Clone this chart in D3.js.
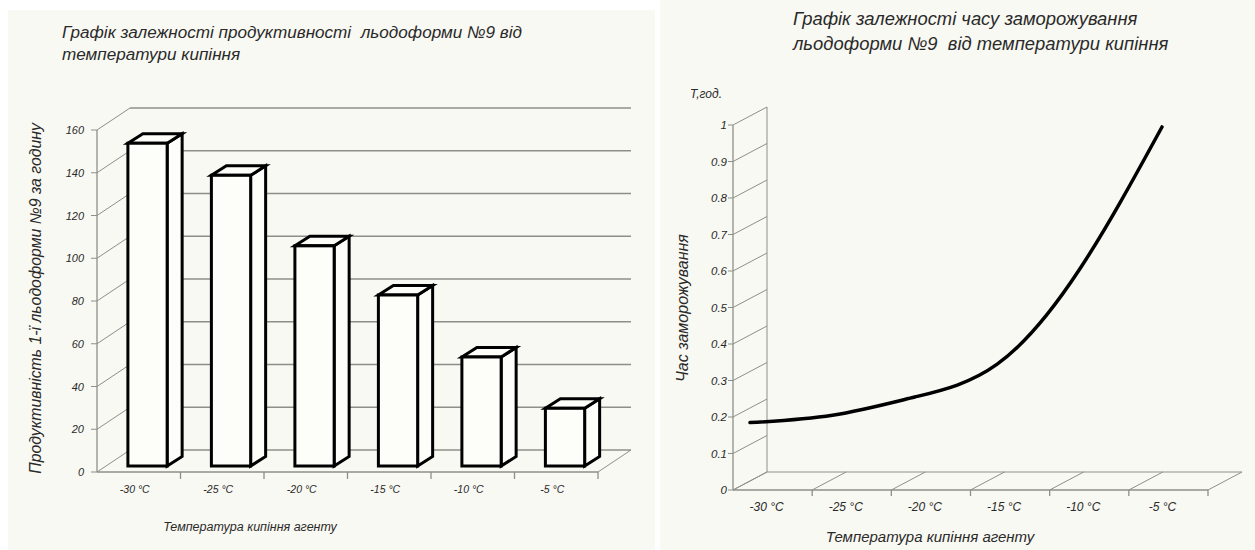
<!DOCTYPE html>
<html>
<head>
<meta charset="utf-8">
<script src="https://cdn.jsdelivr.net/npm/d3@7"></script>
<style>
  html, body { margin: 0; padding: 0; background: #ffffff; }
  svg { display: block; }
  text { font-family: "Liberation Sans", Arial, sans-serif; font-style: italic; fill: #2a2a2a; white-space: pre; }
</style>
</head>
<body>
<svg id="chart" width="1255" height="550"></svg>
<script>
// ---- data ----
const temperatures = ["-30 °C", "-25 °C", "-20 °C", "-15 °C", "-10 °C", "-5 °C"];
const productivity = [151, 136, 103, 80, 51, 27];          // per hour
const productivityTicks = [0, 20, 40, 60, 80, 100, 120, 140, 160];
const boilingTemp = [-30, -25, -20, -15, -10, -5];
const freezeTime = [0.16, 0.18, 0.23, 0.32, 0.58, 0.97];   // hours
const timeTicks = [0, 0.1, 0.2, 0.3, 0.4, 0.5, 0.6, 0.7, 0.8, 0.9, 1];

const leftTitle = ["Графік залежності продуктивності  льодоформи №9 від", "температури кипіння"];
const rightTitle = ["Графік залежності часу заморожування", "льодоформи №9  від температури кипіння"];
const leftYTitle = "Продуктивність 1-ї льодоформи №9 за годину";
const rightYTitle = "Час заморожування";
const rightYUnit = "T,год.";
const xTitle = "Температура кипіння агенту";

const svg = d3.select("#chart");
const GRID = "#8f8f8a";
const PANEL = "#f9f9f3";

// panel backgrounds
svg.append("rect").attr("x", 8).attr("y", 10).attr("width", 647).attr("height", 540).attr("fill", PANEL);
svg.append("rect").attr("x", 660).attr("y", 0).attr("width", 595).attr("height", 550).attr("fill", PANEL);

// ================= left: 3D bar chart =================
(function () {
  const x0 = 97, x1 = 598, yBase = 472, yTopPx = 130;
  const wall = { dx: 33, dy: 22 };
  const g = svg.append("g");

  const x = d3.scaleBand().domain(temperatures).range([x0, x1]);
  const y = d3.scaleLinear().domain([0, 160]).range([yBase, yTopPx]);

  // back wall gridlines
  g.selectAll("line.grid").data(productivityTicks).join("line")
    .attr("x1", x0 + wall.dx).attr("x2", x1 + wall.dx)
    .attr("y1", d => y(d) - wall.dy).attr("y2", d => y(d) - wall.dy)
    .attr("stroke", GRID).attr("stroke-width", 1.3);

  // side-wall diagonals from axis ticks
  g.selectAll("line.diag").data(productivityTicks).join("line")
    .attr("x1", x0).attr("y1", d => y(d))
    .attr("x2", x0 + wall.dx).attr("y2", d => y(d) - wall.dy)
    .attr("stroke", GRID).attr("stroke-width", 1);

  // floor
  g.append("line").attr("x1", x0).attr("x2", x1).attr("y1", yBase).attr("y2", yBase)
    .attr("stroke", GRID).attr("stroke-width", 1.3);
  g.append("line").attr("x1", x1).attr("y1", yBase).attr("x2", x1 + wall.dx).attr("y2", yBase - wall.dy)
    .attr("stroke", GRID).attr("stroke-width", 1);

  // y axis
  g.append("line").attr("x1", x0).attr("x2", x0).attr("y1", yBase).attr("y2", yTopPx)
    .attr("stroke", GRID).attr("stroke-width", 1.3);
  g.selectAll("line.ytick").data(productivityTicks).join("line")
    .attr("x1", x0 - 6).attr("x2", x0).attr("y1", d => y(d)).attr("y2", d => y(d))
    .attr("stroke", GRID);
  g.selectAll("text.ylab").data(productivityTicks).join("text")
    .attr("x", x0 - 13).attr("y", d => y(d) + 4)
    .attr("text-anchor", "end").attr("font-size", 11).text(d => d);

  // x ticks
  g.selectAll("line.xtick").data(temperatures).join("line")
    .attr("x1", d => x(d) + x.bandwidth()).attr("x2", d => x(d) + x.bandwidth())
    .attr("y1", yBase).attr("y2", yBase + 7).attr("stroke", GRID).attr("stroke-width", 1.3);
  g.selectAll("text.xlab").data(temperatures).join("text")
    .attr("x", d => x(d) + x.bandwidth() / 2 - 4).attr("y", yBase + 21)
    .attr("text-anchor", "middle").attr("font-size", 10.5).text(d => d);

  // bars (front face + right side + top)
  const lift = 6;                     // bars sit slightly behind the front plane
  const depth = { dx: 15, dy: 9.5 };
  const bw = x.bandwidth() * 0.47;
  const bars = g.selectAll("g.bar").data(temperatures.map((t, i) => ({ t, v: productivity[i] }))).join("g");
  bars.each(function (d) {
    const L = x(d.t) + x.bandwidth() * 0.37;
    const R = L + bw;
    const T = y(d.v) - lift;
    const B = y(0) - lift;
    const sel = d3.select(this);
    const style = s => s.attr("fill", "#fdfdf9").attr("stroke", "#000").attr("stroke-width", 3).attr("stroke-linejoin", "miter");
    style(sel.append("path").attr("d", `M${R},${T}L${R + depth.dx},${T - depth.dy}L${R + depth.dx},${B - depth.dy}L${R},${B}Z`));
    style(sel.append("path").attr("d", `M${L},${T}L${L + depth.dx},${T - depth.dy}L${R + depth.dx},${T - depth.dy}L${R},${T}Z`));
    style(sel.append("rect").attr("x", L).attr("y", T).attr("width", bw).attr("height", B - T));
  });

  // titles
  svg.append("text").attr("x", 62).attr("y", 38).attr("font-size", 17.1).text(leftTitle[0]);
  svg.append("text").attr("x", 62).attr("y", 60).attr("font-size", 17.1).text(leftTitle[1]);
  svg.append("text").attr("transform", `translate(41,${(yBase + 125) / 2}) rotate(-90)`)
    .attr("text-anchor", "middle").attr("font-size", 15.8).text(leftYTitle);
  svg.append("text").attr("x", 250).attr("y", 531).attr("text-anchor", "middle")
    .attr("font-size", 12.5).text(xTitle);
})();

// ================= right: 3D line chart =================
(function () {
  const x0 = 733, x1 = 1208, yBase = 490, yTopPx = 125;
  const wall = { dx: 34, dy: 18 };
  const g = svg.append("g");

  const xb = d3.scaleBand().domain(temperatures).range([x0, x1]);
  const y = d3.scaleLinear().domain([0, 1]).range([yBase, yTopPx]);

  // side-wall diagonals
  g.selectAll("line.diag").data(timeTicks).join("line")
    .attr("x1", x0).attr("y1", d => y(d))
    .attr("x2", x0 + wall.dx).attr("y2", d => y(d) - wall.dy)
    .attr("stroke", GRID).attr("stroke-width", 1);
  // back vertical edge
  g.append("line").attr("x1", x0 + wall.dx).attr("x2", x0 + wall.dx)
    .attr("y1", yBase - wall.dy).attr("y2", yTopPx - wall.dy).attr("stroke", GRID);

  // floor
  const bounds = [x0].concat(temperatures.map(t => xb(t) + xb.bandwidth()));
  g.append("line").attr("x1", x0).attr("x2", x1).attr("y1", yBase).attr("y2", yBase)
    .attr("stroke", GRID).attr("stroke-width", 1.3);
  g.append("line").attr("x1", x0 + wall.dx).attr("x2", x1 + wall.dx)
    .attr("y1", yBase - wall.dy).attr("y2", yBase - wall.dy).attr("stroke", GRID);
  g.selectAll("line.fdiag").data(bounds).join("line")
    .attr("x1", d => d).attr("y1", yBase).attr("x2", d => d + wall.dx).attr("y2", yBase - wall.dy)
    .attr("stroke", GRID);
  g.selectAll("line.xtick").data(bounds.slice(1)).join("line")
    .attr("x1", d => d).attr("x2", d => d).attr("y1", yBase).attr("y2", yBase + 6)
    .attr("stroke", GRID).attr("stroke-width", 1.3);
  g.selectAll("text.xlab").data(temperatures).join("text")
    .attr("x", d => xb(d) + xb.bandwidth() / 2 - 6).attr("y", yBase + 21)
    .attr("text-anchor", "middle").attr("font-size", 12).text(d => d);

  // y axis
  g.append("line").attr("x1", x0).attr("x2", x0).attr("y1", yBase).attr("y2", yTopPx)
    .attr("stroke", GRID).attr("stroke-width", 1.3);
  g.selectAll("line.ytick").data(timeTicks).join("line")
    .attr("x1", x0 - 5).attr("x2", x0).attr("y1", d => y(d)).attr("y2", d => y(d))
    .attr("stroke", GRID);
  g.selectAll("text.ylab").data(timeTicks).join("text")
    .attr("x", x0 - 6).attr("y", d => y(d) + 4)
    .attr("text-anchor", "end").attr("font-size", 11.5).text(d => d);

  // freezing-time curve, drawn at mid-depth of the box
  const mid = { dx: wall.dx / 2, dy: wall.dy / 2 };
  const xt = d3.scaleLinear().domain([-30, -5]).range([x0 + mid.dx, x1 - 63 + mid.dx]);
  const line = d3.line()
    .x((d, i) => xt(boilingTemp[i]))
    .y(d => y(d) - mid.dy)
    .curve(d3.curveNatural);
  g.append("path").datum(freezeTime).attr("d", line)
    .attr("fill", "none").attr("stroke", "#000").attr("stroke-width", 3.5).attr("stroke-linecap", "round");

  // titles
  svg.append("text").attr("x", 793).attr("y", 25).attr("font-size", 18.4).text(rightTitle[0]);
  svg.append("text").attr("x", 793).attr("y", 50).attr("font-size", 18.4).text(rightTitle[1]);
  svg.append("text").attr("x", 690).attr("y", 98).attr("font-size", 12).text(rightYUnit);
  svg.append("text").attr("transform", `translate(688,308) rotate(-90)`)
    .attr("text-anchor", "middle").attr("font-size", 16).text(rightYTitle);
  svg.append("text").attr("x", 930).attr("y", 542).attr("text-anchor", "middle")
    .attr("font-size", 15).text(xTitle);
})();
</script>
</body>
</html>
